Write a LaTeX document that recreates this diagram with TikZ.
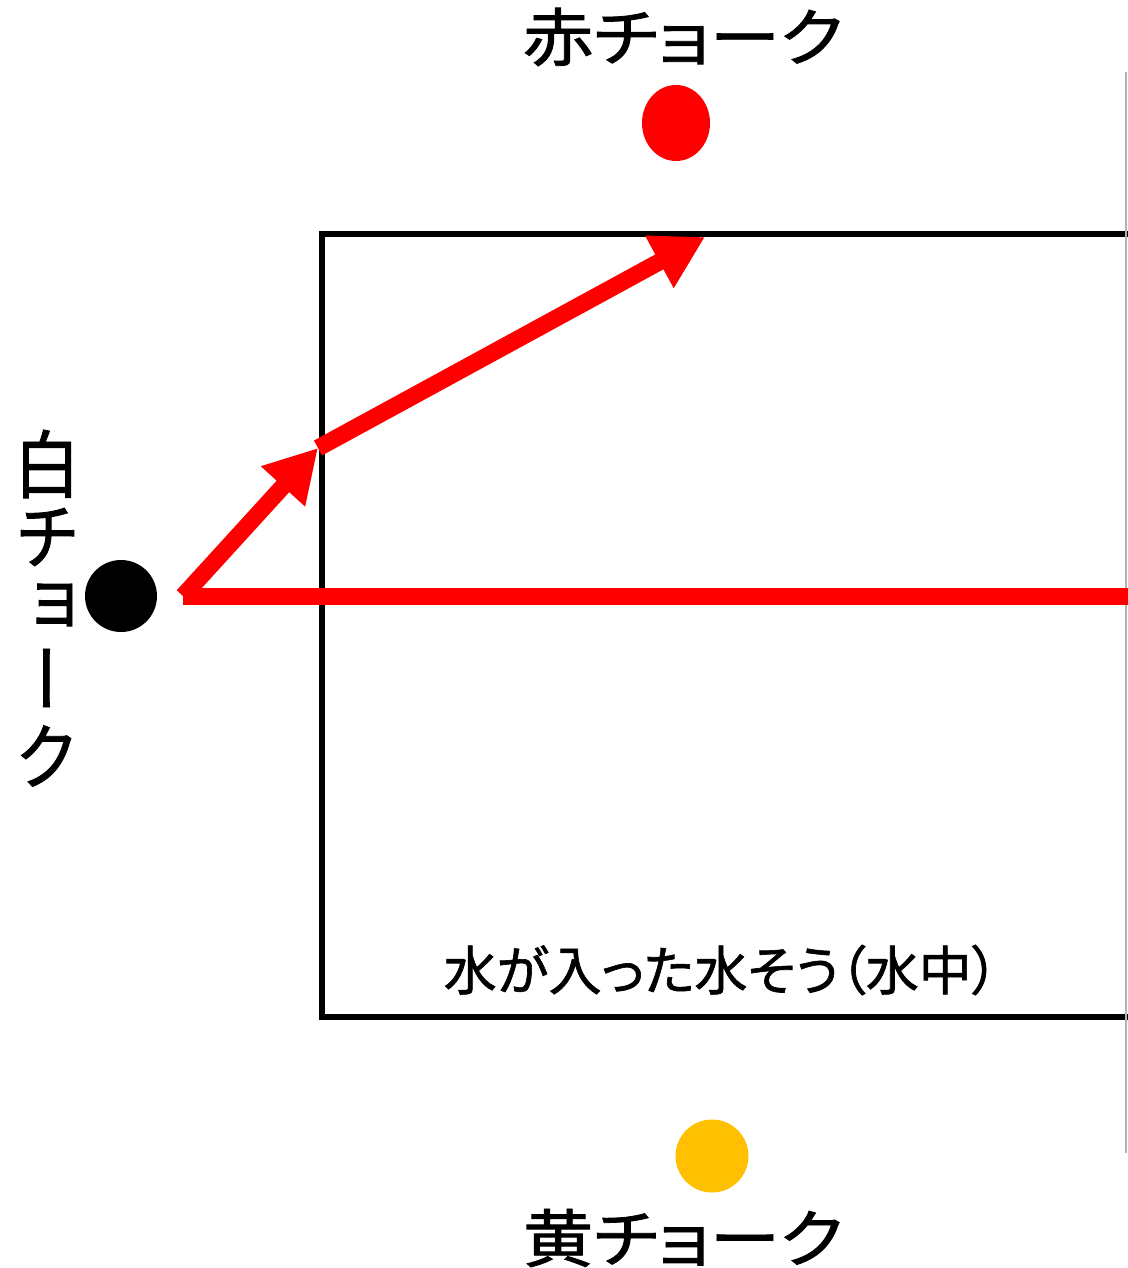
\documentclass[tikz,border=0pt]{standalone}
\usepackage{fontspec}
\usepackage{graphicx}
\usetikzlibrary{arrows.meta,shapes.geometric}
\newfontfamily\jpfont[RawFeature=+palt,FakeBold=1.2]{Noto Sans CJK JP}
\newfontfamily\jpvfont[RawFeature=+vert,FakeBold=1.2]{Noto Sans CJK JP}
\definecolor{chred}{RGB}{255,0,0}
\definecolor{chyellow}{RGB}{255,192,0}
\newcommand{\widetext}[1]{\scalebox{1.12}[1]{#1}}
\newcommand{\talltext}[1]{\scalebox{1}[1.12]{#1}}
\begin{document}
\begin{tikzpicture}[x=1pt,y=-1pt,
  redline/.style={draw=chred,line width=17pt},
  redtip/.style={-{Triangle[length=52pt,width=56pt]}},
  tank/.style={draw=black,line width=6.5pt},
  bigtext/.style={inner sep=0pt,font=\jpfont\fontsize{63pt}{63pt}\selectfont},
  vtext/.style={inner sep=0pt,font=\jpvfont\fontsize{66pt}{66pt}\selectfont},
  smalltext/.style={inner sep=0pt,font=\jpfont\fontsize{53pt}{53pt}\selectfont},
  chalk/.style={circle,inner sep=0pt,minimum size=72pt}]
\useasboundingbox (0,0) rectangle (1127,1268);
% tank (right side runs past the edge)
\coordinate (tr) at (1140,234);
\coordinate (br) at (1140,1017);
\draw[tank] (tr) -- (322,234) -- (322,1017) -- (br);
% thin gray edge line
\coordinate (g1) at (1126,72);
\coordinate (g2) at (1126,1153);
\draw[draw=black!30,line width=1.5pt] (g1) -- (g2);
% chalks
\node[chalk,fill=black] (white) at (121,596) {};
\node[ellipse,inner sep=0pt,minimum width=68pt,minimum height=76pt,fill=chred] (red) at (676,123) {};
\node[chalk,fill=chyellow,minimum size=73pt] (yellow) at (712,1156) {};
% labels
\node[bigtext] (redlab) at (683,37) {\widetext{赤チョーク}};
\node[bigtext] (yellab) at (683,1238) {\widetext{黄チョーク}};
\node[vtext] (w1) at (47,464) {\talltext{白}};
\node[vtext] (w2) at (47,537) {\talltext{チ}};
\node[vtext] (w3) at (47,608) {\talltext{ョ}};
\node[vtext] (w4) at (47,678) {\talltext{ー}};
\node[vtext] (w5) at (47,756) {\talltext{ク}};
\node[smalltext] (water) at (721,970) {水が入った水そう（水中）};
% light rays
\coordinate (s) at (183,596);
\coordinate (m) at (318,448);
\coordinate (e) at (705,237);
\coordinate (far) at (1140,596);
\draw[redline] (s) -- (far);
\draw[redline,redtip] (s) -- (m);
\draw[redline,redtip] (m) -- (e);
\end{tikzpicture}
\end{document}
